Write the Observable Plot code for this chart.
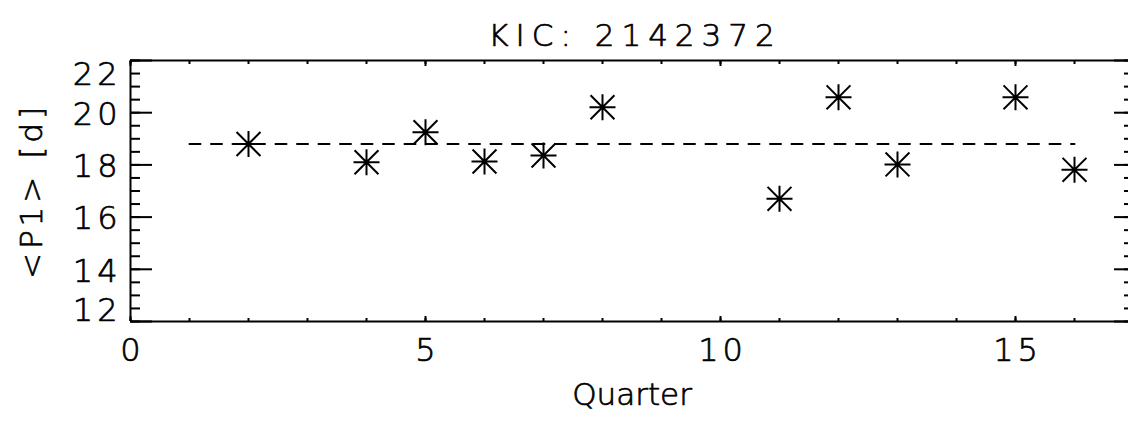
<!DOCTYPE html>
<html><head><meta charset="utf-8">
<script src="https://cdn.jsdelivr.net/npm/d3@7"></script>
<script src="https://cdn.jsdelivr.net/npm/@observablehq/plot@0.6"></script>
<style>body{margin:0;background:#fff} svg{display:block}</style>
</head><body><div id="chart"></div>
<script>
// ---- data ----
const quarters = [2, 4, 5, 6, 7, 8, 11, 12, 13, 15, 16];
const meanP1 = [18.80, 18.10, 19.25, 18.13, 18.36, 20.21, 16.70, 20.59, 18.02, 20.59, 17.81];
const meanLevel = 18.8;
const meanSpan = [1, 16];
const xMajorTicks = [0, 5, 10, 15];
const xMinorTicks = [0,1,2,3,4,5,6,7,8,9,10,11,12,13,14,15,16,17];
const yMajorTicks = [12, 14, 16, 18, 20, 22];
const yMinorTicks = [12,12.5,13,13.5,14,14.5,15,15.5,16,16.5,17,17.5,18,18.5,19,19.5,20,20.5,21,21.5,22];
const titleText = "KIC: 2142372";
const xLabelText = "Quarter";
const yLabelText = "<P1> [d]";

const points = quarters.map((q, i) => ({q, p: meanP1[i]}));
const meanLine = meanSpan.map(q => ({q, p: meanLevel}));

// IDL-style 8-arm asterisk
const asterisk = {
  draw(ctx, size) {
    const r = Math.sqrt(size / Math.PI);
    const d = r * 0.92;
    ctx.moveTo(-r, 0); ctx.lineTo(r, 0);
    ctx.moveTo(0, -r); ctx.lineTo(0, r);
    ctx.moveTo(-d, -d); ctx.lineTo(d, d);
    ctx.moveTo(-d, d); ctx.lineTo(d, -d);
  }
};

const FONT = "DejaVu Sans";
const blank = () => "";
const yMid = yMajorTicks.filter(v => v !== 12 && v !== 22);
const yTop = yMajorTicks.filter(v => v === 22);
const yBot = yMajorTicks.filter(v => v === 12);
const tk = {tickFormat: blank, strokeWidth: 2, label: null};
const txt = {fill: "#000", stroke: "#000", strokeWidth: 0.7};

const chart = Plot.plot({
  width: 1128,
  height: 423,
  marginLeft: 130,
  marginRight: -5,
  marginTop: 60,
  marginBottom: 102,
  x: {domain: [0, 17], axis: null},
  y: {domain: [12, 22], axis: null},
  style: {fontFamily: FONT, fontSize: "31px", fontWeight: 200, color: "#000", background: "#fff"},
  marks: [
    // frame
    Plot.ruleY([12, 22], {stroke: "#000", strokeWidth: 2}),
    Plot.ruleX([0], {stroke: "#000", strokeWidth: 2}),
    // y ticks (inward), left and right
    Plot.axisY(yMajorTicks, {anchor: "left", tickSize: 22, dx: 22, ...tk}),
    Plot.axisY(yMinorTicks, {anchor: "left", tickSize: 10, dx: 10, ...tk}),
    Plot.axisY(yMajorTicks, {anchor: "right", tickSize: 20, dx: -20, ...tk}),
    Plot.axisY(yMinorTicks, {anchor: "right", tickSize: 10, dx: -10, ...tk}),
    // x ticks (inward), bottom and top
    Plot.axisX(xMajorTicks, {anchor: "bottom", tickSize: 5, dy: -5, ...tk}),
    Plot.axisX(xMinorTicks, {anchor: "bottom", tickSize: 3, dy: -3, ...tk}),
    Plot.axisX(xMajorTicks, {anchor: "top", tickSize: 5, dy: 5, ...tk}),
    Plot.axisX(xMinorTicks, {anchor: "top", tickSize: 3, dy: 3, ...tk}),
    // tick labels
    Plot.text(xMajorTicks, {x: d => d, frameAnchor: "bottom", dy: 39, dx: 2, text: d => String(d),
      fontSize: 32, ...txt}),
    Plot.text(yMid, {y: d => d, frameAnchor: "left", textAnchor: "end", dx: -9, dy: 2, text: d => String(d),
      fontSize: 32, ...txt}),
    Plot.text(yTop, {y: d => d, frameAnchor: "left", textAnchor: "end", dx: -9, dy: 14, text: d => String(d),
      fontSize: 32, ...txt}),
    Plot.text(yBot, {y: d => d, frameAnchor: "left", textAnchor: "end", dx: -9, dy: -11, text: d => String(d),
      fontSize: 32, ...txt}),
    // axis labels and title
    Plot.text([xLabelText], {frameAnchor: "bottom", dy: 83, text: d => d, fontSize: 31, ...txt}),
    Plot.text([yLabelText], {frameAnchor: "left", textAnchor: "middle", dx: -98, rotate: -90, text: d => d,
      fontSize: 31, ...txt}),
    Plot.text([titleText], {frameAnchor: "top", dy: -37, dx: 3, text: d => d, fontSize: 31, ...txt}),
    // mean line
    Plot.line(meanLine, {x: "q", y: "p", stroke: "#000", strokeWidth: 2, strokeDasharray: "11,10.5"}),
    // data
    Plot.dot(points, {x: "q", y: "p", r: 13, symbol: asterisk, stroke: "#000", strokeWidth: 2, fill: "none"})
  ]
});
document.getElementById("chart").append(chart);
// wider letter spacing, like the reference's vector font
chart.querySelectorAll("text").forEach(t => {
  const s = t.textContent;
  if (/^\d+$/.test(s)) t.setAttribute("letter-spacing", "4");
  else if (s === titleText) t.setAttribute("letter-spacing", "7");
  else if (s === yLabelText) t.setAttribute("letter-spacing", "4");
});
</script>
</body></html>
